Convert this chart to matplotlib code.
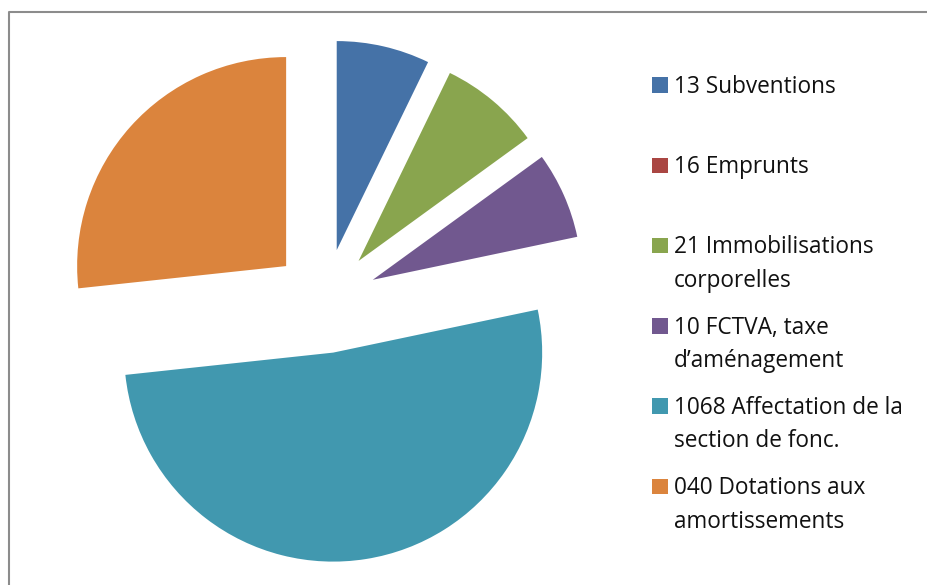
import matplotlib.pyplot as plt
from matplotlib.patches import Rectangle
from matplotlib.lines import Line2D

# Share of each chapter (percent)
labels = [
    "13 Subventions",
    "16 Emprunts",
    "21 Immobilisations\ncorporelles",
    "10 FCTVA, taxe\nd\u2019am\u00e9nagement",
    "1068 Affectation de la\nsection de fonc.",
    "040 Dotations aux\namortissements",
]
values = [7.2, 0.0, 7.8, 6.7, 51.6, 26.7]
colors = ["#4572A7", "#AA4643", "#89A54E", "#71588F", "#4198AF", "#DB843D"]

W, H = 927, 585
fig = plt.figure(figsize=(W / 100, H / 100), dpi=100)
ax = fig.add_axes([0, 0, 1, 1])

ax.pie(values, colors=colors, startangle=90, counterclock=False,
       explode=[0.25] * len(values), radius=1.0,
       wedgeprops={"linewidth": 0})

# pie centre at (325, 301) px, radius 209 px
r_px = 209
cx, cy = 325, 301
ax.set_xlim(-cx / r_px, (W - cx) / r_px)
ax.set_ylim(-(H - cy) / r_px, cy / r_px)
ax.set_aspect("auto")
ax.axis("off")

# chart border (top and left edges visible)
fig.add_artist(Line2D([8.5 / W, 8.5 / W, 1], [0, 1 - 11.5 / H, 1 - 11.5 / H],
                      color="#8c8c8c", linewidth=1.5, transform=fig.transFigure))

# legend, drawn like the spreadsheet one
x_box, x_txt = 652, 674
first_base = 93
step = 80.2
line_gap = 33.5
for i, (lab, col) in enumerate(zip(labels, colors)):
    base = first_base + i * step
    fig.add_artist(Rectangle((x_box / W, 1 - base / H), 15.5 / W, 15.5 / H,
                             facecolor=col, edgecolor="none",
                             transform=fig.transFigure))
    for j, line in enumerate(lab.split("\n")):
        fig.text(x_txt / W, 1 - (base + j * line_gap) / H, line,
                 fontsize=16.3, family="Open Sans", color="#111111",
                 ha="left", va="baseline")

fig.savefig("out.png", dpi=100)
